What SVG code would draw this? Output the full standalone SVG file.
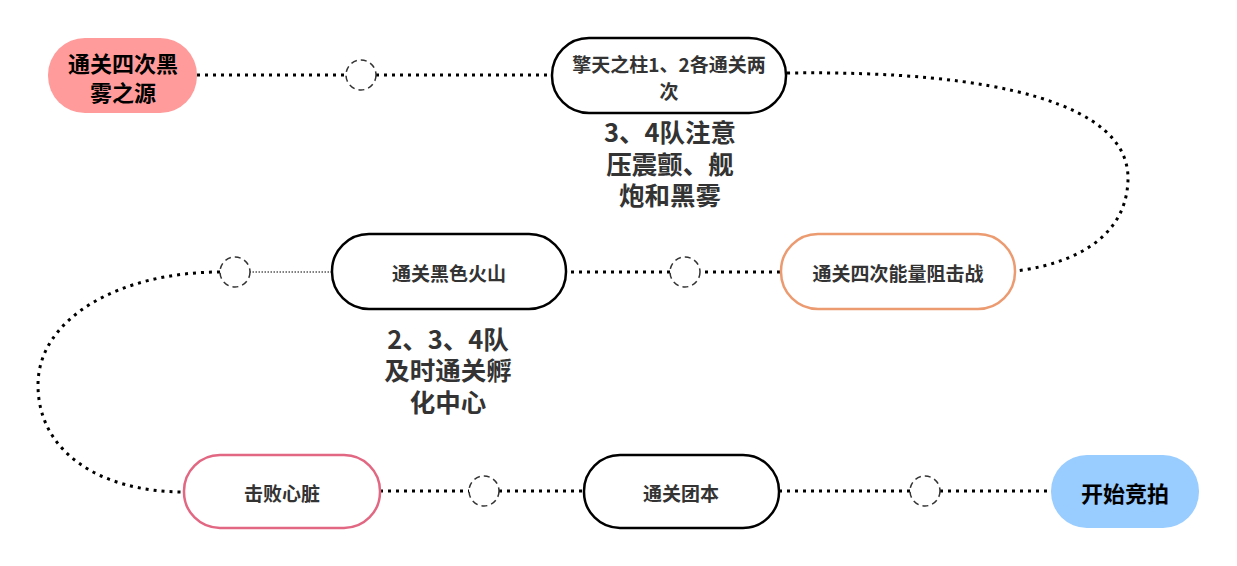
<svg xmlns="http://www.w3.org/2000/svg" width="1237" height="566" viewBox="0 0 1237 566">
<style>
.box{fill:#fff;stroke-width:2.5}
.t{font-family:"Noto Sans CJK SC","Noto Sans",sans-serif;font-weight:bold;text-anchor:middle;dominant-baseline:central}
.n{font-size:19px;fill:#333}
.big{font-size:22px;fill:#000}
.lab{font-size:25.5px;fill:#333}
.c{fill:#fff;stroke:#333;stroke-width:1.5;stroke-dasharray:6 4}
.d{fill:none;stroke:#000;stroke-width:3;stroke-dasharray:3 5}
.thin{fill:none;stroke:#000;stroke-width:1;stroke-dasharray:1.5 1.5}
</style>
<rect width="1237" height="566" fill="#fff"/>
<g id="connectors">
<path class="d" d="M197,75 H346"/>
<path class="d" d="M376,75 H551"/>
<path class="d" d="M787,73 C1000,70 1130,105 1128,180 C1126,245 1060,266 1015,271"/>
<path class="d" d="M780,272 H700"/>
<path class="d" d="M670,272 H566"/>
<path class="thin" d="M332,272 H250"/>
<path class="d" d="M220,272 C120,272 38,318 38,385 C38,452 100,492 184,492"/>
<path class="d" d="M380,491 H469"/>
<path class="d" d="M499,491 H584"/>
<path class="d" d="M779,491 H910"/>
<path class="d" d="M940,491 H1051"/>
<circle class="c" cx="361" cy="75" r="15"/>
<circle class="c" cx="685" cy="272" r="15"/>
<circle class="c" cx="235" cy="272" r="15"/>
<circle class="c" cx="484" cy="491" r="15"/>
<circle class="c" cx="925" cy="491" r="15"/>
</g>
<g id="node1">
<rect x="48" y="38" width="149" height="75" rx="37" fill="#FF9B9B"/>
<text class="t big" x="123" y="62">通关四次黑</text>
<text class="t big" x="123" y="91">雾之源</text>
</g>
<g id="node2">
<rect class="box" x="552" y="38" width="234" height="75" rx="37" stroke="#000"/>
<text class="t n" x="669" y="63">擎天之柱1、2各通关两</text>
<text class="t n" x="669" y="90">次</text>
</g>
<g id="label1">
<text class="t lab" x="670" y="130">3、4队注意</text>
<text class="t lab" x="670" y="162">压震颤、舰</text>
<text class="t lab" x="670" y="193">炮和黑雾</text>
</g>
<g id="node3">
<rect class="box" x="781" y="234" width="234" height="75" rx="37" stroke="#EC9A70"/>
<text class="t n" x="898" y="272">通关四次能量阻击战</text>
</g>
<g id="node4">
<rect class="box" x="332" y="234" width="234" height="75" rx="37" stroke="#000"/>
<text class="t n" x="449" y="272">通关黑色火山</text>
</g>
<g id="label2">
<text class="t lab" x="448" y="337">2、3、4队</text>
<text class="t lab" x="448" y="368">及时通关孵</text>
<text class="t lab" x="448" y="400">化中心</text>
</g>
<g id="node5">
<rect class="box" x="184" y="455" width="196" height="73" rx="36" stroke="#E26782"/>
<text class="t n" x="282" y="492">击败心脏</text>
</g>
<g id="node6">
<rect class="box" x="584" y="455" width="195" height="73" rx="36" stroke="#000"/>
<text class="t n" x="681" y="492">通关团本</text>
</g>
<g id="node7">
<rect x="1051" y="455" width="148" height="73" rx="36" fill="#99CCFF"/>
<text class="t big" x="1125" y="492">开始竞拍</text>
</g>
</svg>
